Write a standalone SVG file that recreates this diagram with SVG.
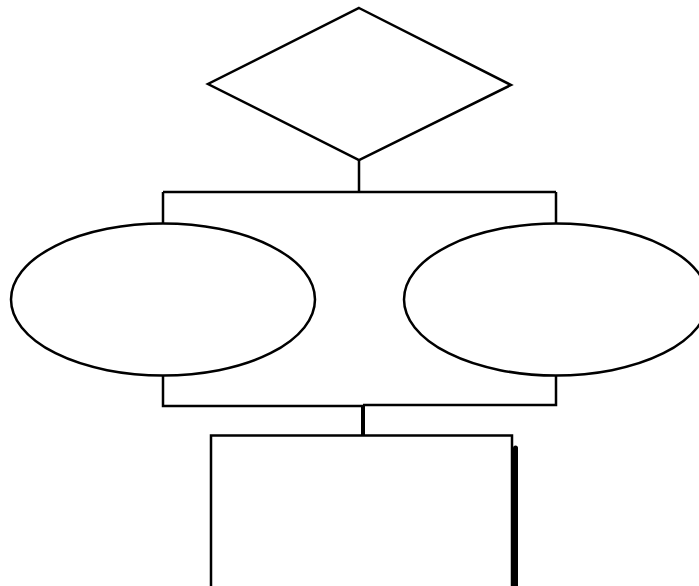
<svg xmlns="http://www.w3.org/2000/svg" width="699" height="586" viewBox="0 0 699 586">
<style>
.s{fill:#fff;stroke:#000;stroke-width:2.5}
.c{fill:none;stroke:#000;stroke-width:2.5}
</style>
<rect width="699" height="586" fill="#fff"/>
<g id="connectors">
<path class="c" d="M359 160V192M163 192H556M163 192V224M556 192V224"/>
<path class="c" d="M163 375V406H363M363 405H556V375"/>
<path class="c" d="M363 406V436" style="stroke-width:4"/>
</g>
<g id="decision"><polygon class="s" points="359,8 511,85 359,160 208,84"/></g>
<g id="left"><ellipse class="s" cx="163" cy="299.5" rx="152" ry="76"/></g>
<g id="right"><ellipse class="s" cx="556" cy="299.5" rx="152" ry="76"/></g>
<g id="box">
<line x1="515.5" y1="448" x2="515.5" y2="590" stroke="#000" stroke-width="5" stroke-linecap="round"/>
<rect class="s" x="211" y="435.5" width="301" height="160"/>
</g>
</svg>
